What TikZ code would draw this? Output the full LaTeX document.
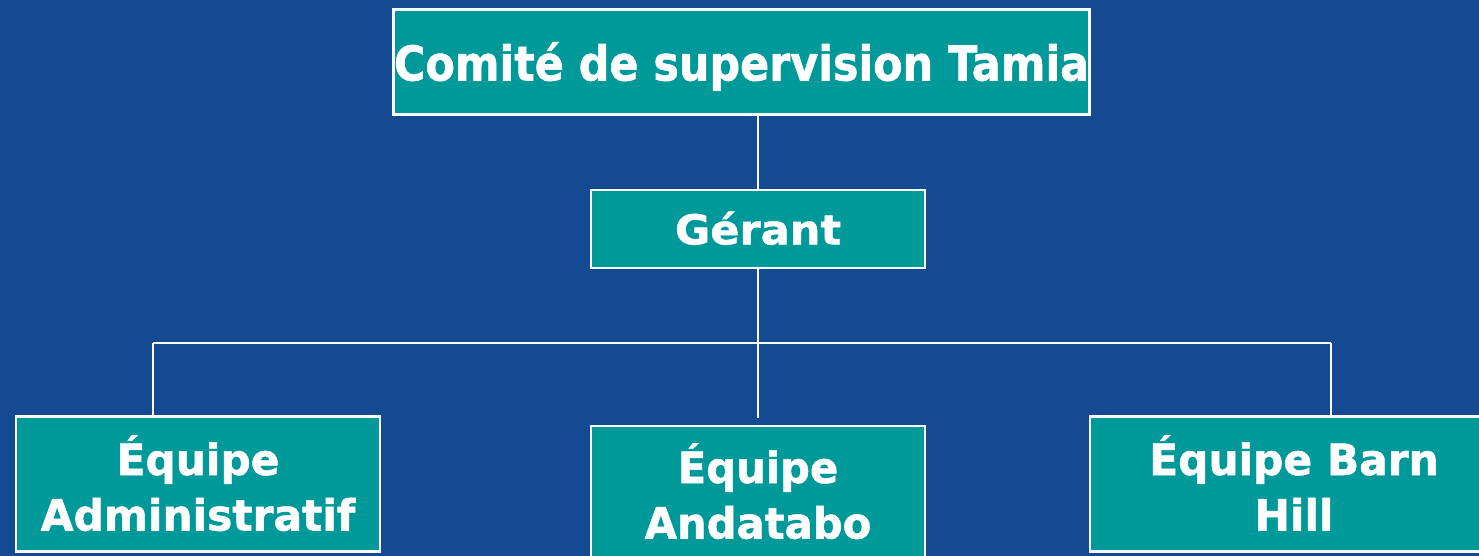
\documentclass[tikz,border=0pt]{standalone}
\usepackage{fontspec}
\usepackage{graphicx}
\setmainfont{DejaVu Sans}[BoldFeatures={FakeBold=1.2}]
\definecolor{bgblue}{HTML}{134A91}
\definecolor{boxteal}{HTML}{009999}
\newcommand\mkOne[3]{\raisebox{#1}[0pt][0pt]{\scalebox{#2}[1]{#3}}}
\newcommand\mkTwo[4]{\raisebox{#1}[0pt][0pt]{\scalebox{#2}[1]{\begin{tabular}[b]{@{}c@{}}\smash{#3}\\\smash{#4}\end{tabular}}}}
\begin{document}
\begin{tikzpicture}[x=1pt,y=-1pt,
  box/.style={draw=white, line width=2.4pt, fill=boxteal, text=white, inner sep=0pt},
  link/.style={draw=white, line width=1.8pt},
  toptxt/.style={font=\fontsize{48}{56}\selectfont\bfseries},
  midtxt/.style={font=\fontsize{41}{56}\selectfont\bfseries},
  lowtxt/.style={font=\fontsize{43}{55.5}\selectfont\bfseries}]
\fill[bgblue] (0,0) rectangle (1479,556);
\useasboundingbox (0,0) rectangle (1479,556);
\node[box, toptxt, minimum width=696pt, minimum height=105pt] (top) at (741.5,61.9)
  {\mkOne{-18.6pt}{0.893}{Comité de supervision Tamia}};
\node[box, midtxt, minimum width=334pt, minimum height=78pt] (ger) at (758,229)
  {\mkOne{-15.3pt}{1.05}{Gérant}};
\node[box, lowtxt, minimum width=364pt, minimum height=135pt] (adm) at (198,484)
  {\mkTwo{-46.5pt}{0.985}{Équipe}{Administratif}};
\node[box, lowtxt, minimum width=334pt, minimum height=138pt] (and) at (758,495)
  {\mkTwo{-43.5pt}{0.97}{Équipe}{Andatabo}};
\node[box, lowtxt, minimum width=408pt, minimum height=135pt] (barn) at (1294,484)
  {\mkTwo{-46.5pt}{0.985}{Équipe Barn}{Hill}};
\coordinate (hl) at (153,343);
\coordinate (hr) at (1331,343);
\coordinate (me) at (758,418);
\draw[link] (ger.north |- top.south) -- (ger.north);
\draw[link] (ger.south) -- (me);
\draw[link] (hl) -- (hr);
\draw[link] (hl) -- (hl |- adm.north);
\draw[link] (hr) -- (hr |- barn.north);
\end{tikzpicture}
\end{document}
